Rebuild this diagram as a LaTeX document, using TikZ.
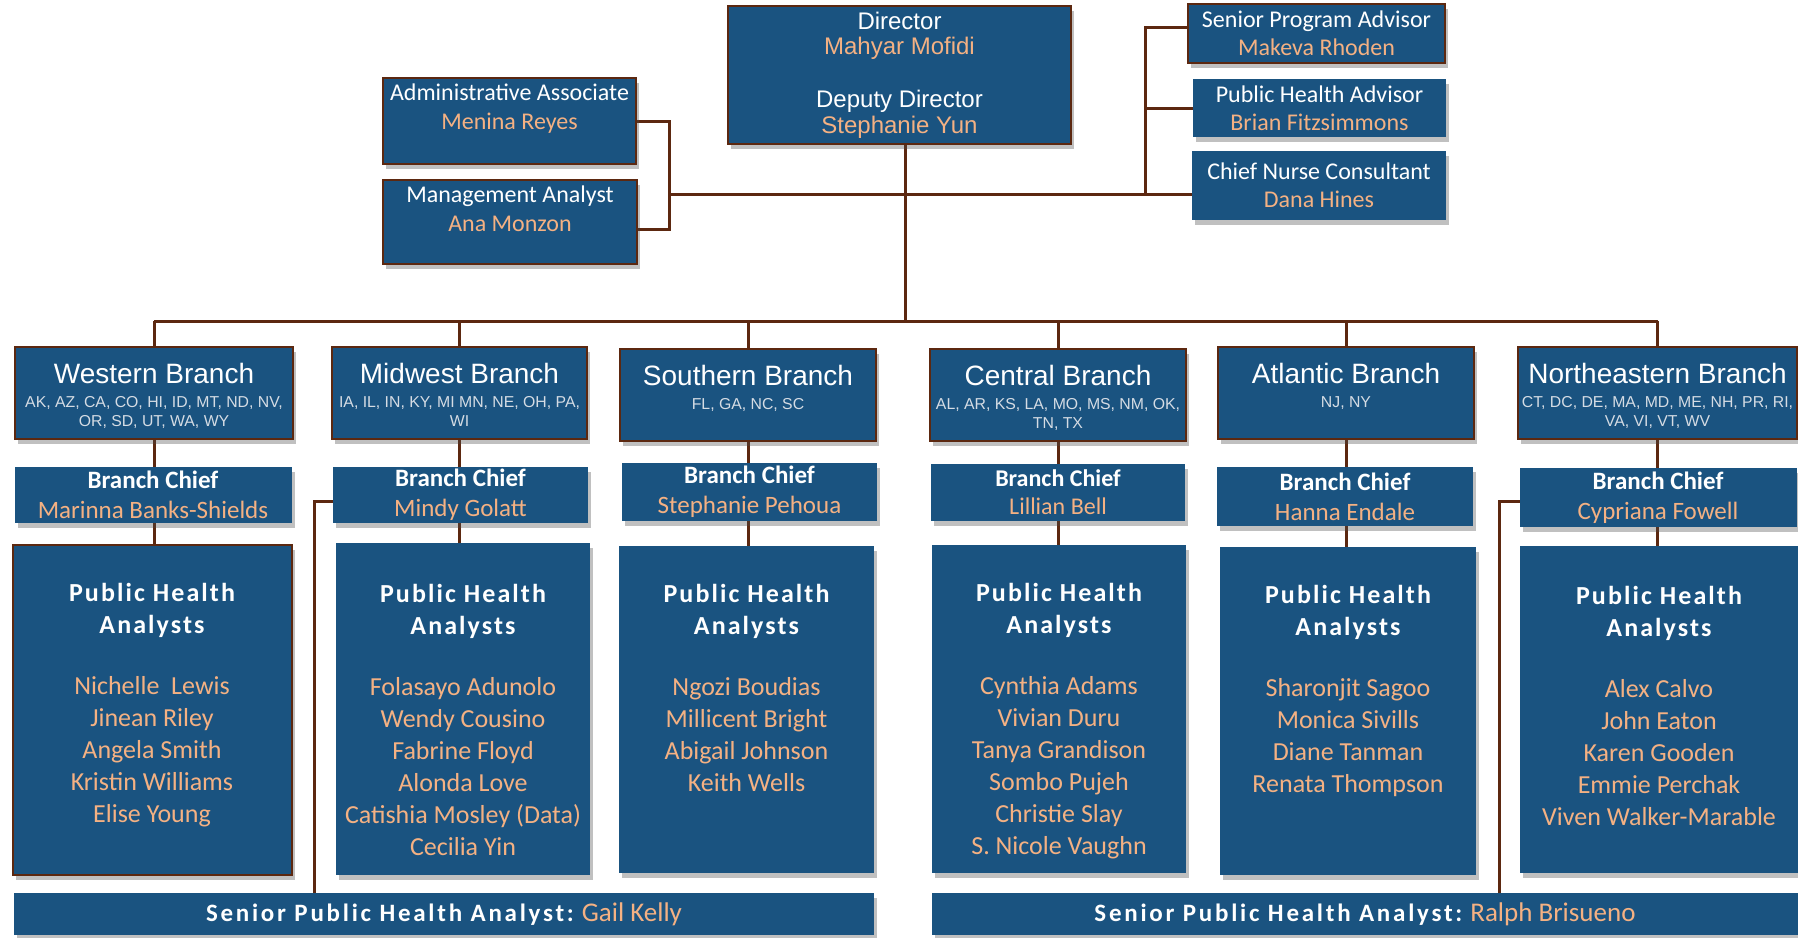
\documentclass[tikz,border=0pt]{standalone}
\usepackage{fontspec}
\setmainfont{Carlito}
\newfontfamily\arialfont{Liberation Sans}
\newfontfamily\trackfont[LetterSpace=8]{Carlito}
\newfontfamily\barfont[LetterSpace=11]{Carlito}
\usetikzlibrary{positioning,shadows,backgrounds}
\definecolor{boxblue}{HTML}{1A5380}
\definecolor{linebrown}{HTML}{5C2810}
\definecolor{peach}{HTML}{F4B183}
\definecolor{stategray}{HTML}{D5DCE4}
\newcommand{\who}[1]{{\color{peach}#1}}
\tikzset{
block/.style={
  rectangle,
  fill=boxblue,
  text=white,
  align=center,
  inner sep=0pt,
  outer sep=0pt,
  drop shadow={shadow xshift=1.5pt, shadow yshift=-2.5pt, opacity=.35, fill=black!70}},
rim/.style={block, draw=linebrown, line width=1pt},
staff/.style={font=\fontsize{12}{14.2}\selectfont},
boxtext/.style={inner sep=0pt, text=white, align=center, font=\fontsize{12}{14.5}\selectfont},
chief/.style={block, font=\fontsize{12.5}{15}\selectfont},
branchname/.style={inner sep=0pt, text=white, font=\arialfont\fontsize{14}{16}\selectfont},
states/.style={inner sep=0pt, text=stategray, align=center, font=\arialfont\fontsize{7.9}{9.5}\selectfont},
heading/.style={inner sep=0pt, text=white, align=center, font=\trackfont\bfseries\fontsize{13}{16}\selectfont},
names/.style={inner sep=0pt, text=peach, align=center, font=\fontsize{13}{16}\selectfont},
bar/.style={block, minimum height=21pt, font=\fontsize{13.5}{15}\selectfont},
link/.style={draw=linebrown, line width=1.5pt}
}
\begin{document}
\begin{tikzpicture}[x=0.5pt, y=-0.5pt]
    \useasboundingbox (0,0) rectangle (1798,937);
    % office of the director
    \node [rim, minimum width=171.5pt, minimum height=69pt, font=\arialfont\fontsize{12}{12.8}\selectfont] (director) at (899.5,75)
      {Director\\\who{Mahyar Mofidi}\\[13.7pt]Deputy Director\\\who{Stephanie Yun}};
    \node [rim, minimum width=126.5pt, minimum height=43pt] (admin) at (509.5,121) {};
    \node [boxtext, below=2.5pt of admin.north] (admintext) {Administrative Associate\\\who{Menina Reyes}};
    \node [rim, minimum width=127pt, minimum height=42pt] (mgmt) at (510,222) {};
    \node [boxtext, below=2.5pt of mgmt.north] (mgmttext) {Management Analyst\\\who{Ana Monzon}};
    \node [rim, staff, minimum width=128.5pt, minimum height=29.5pt] (spa) at (1316.5,33.5) {Senior Program Advisor\\\who{Makeva Rhoden}};
    \node [block, staff, minimum width=126.5pt, minimum height=29pt] (pha) at (1319.5,108) {Public Health Advisor\\\who{Brian Fitzsimmons}};
    \node [block, staff, minimum width=127pt, minimum height=34.5pt] (cnc) at (1319,185.5) {Chief Nurse Consultant\\\who{Dana Hines}};

    % branches
    \node [rim, minimum width=139pt, minimum height=46pt] (west) at (154,393) {};
    \node [branchname, below=8pt of west.north] (westname) {Western Branch};
    \node [states, below=6pt of westname] (weststates) {AK, AZ, CA, CO, HI, ID, MT, ND, NV,\\OR, SD, UT, WA, WY};
    \node [rim, minimum width=127.5pt, minimum height=46pt] (midwest) at (459.5,393) {};
    \node [branchname, below=8pt of midwest.north] (midwestname) {Midwest Branch};
    \node [states, below=6pt of midwestname] (midweststates) {IA, IL, IN, KY, MI MN, NE, OH, PA,\\WI};
    \node [rim, minimum width=127.75pt, minimum height=46pt] (south) at (748,395) {};
    \node [branchname, below=8pt of south.north] (southname) {Southern Branch};
    \node [states, below=6pt of southname] (southstates) {FL, GA, NC, SC};
    \node [rim, minimum width=127.75pt, minimum height=46pt] (central) at (1058,395) {};
    \node [branchname, below=8pt of central.north] (centralname) {Central Branch};
    \node [states, below=6pt of centralname] (centralstates) {AL, AR, KS, LA, MO, MS, NM, OK,\\TN, TX};
    \node [rim, minimum width=128pt, minimum height=46pt] (atlantic) at (1346,393) {};
    \node [branchname, below=8pt of atlantic.north] (atlanticname) {Atlantic Branch};
    \node [states, below=6pt of atlanticname] (atlanticstates) {NJ, NY};
    \node [rim, minimum width=139.5pt, minimum height=46pt] (northeast) at (1657.5,393) {};
    \node [branchname, below=8pt of northeast.north] (northeastname) {Northeastern Branch};
    \node [states, below=6pt of northeastname] (northeaststates) {CT, DC, DE, MA, MD, ME, NH, PR, RI,\\VA, VI, VT, WV};

    % branch chiefs
    \node [chief, minimum width=138.5pt, minimum height=28pt] (westchief) at (153,495) {\textbf{Branch Chief}\\\who{Marinna Banks-Shields}};
    \node [chief, minimum width=127.5pt, minimum height=28pt] (mwchief) at (460.5,495) {\textbf{Branch Chief}\\\who{Mindy Golatt}};
    \node [chief, minimum width=127.5pt, minimum height=29pt] (southchief) at (749.5,492) {\textbf{Branch Chief}\\\who{Stephanie Pehoua}};
    \node [chief, minimum width=127.25pt, minimum height=28.5pt, font=\fontsize{12}{14}\selectfont] (centralchief) at (1058,492.5) {\textbf{Branch Chief}\\\who{Lillian Bell}};
    \node [chief, minimum width=128pt, minimum height=29.5pt] (atlanticchief) at (1345,496.5) {\textbf{Branch Chief}\\\who{Hanna Endale}};
    \node [chief, minimum width=138.5pt, minimum height=29.5pt] (nechief) at (1658,497.5) {\textbf{Branch Chief}\\\who{Cypriana Fowell}};

    % analyst teams
    \node [rim, minimum width=139.5pt, minimum height=165pt] (westteam) at (152,710) {};
    \node [heading, below=19pt of westteam.north] (westhead) {Public Health\\Analysts};
    \node [names, below=19pt of westhead] (westnames) {Nichelle\ \ Lewis\\Jinean Riley\\Angela Smith\\Kristin Williams\\Elise Young};
    \node [block, minimum width=127pt, minimum height=166pt] (mwteam) at (463,709) {};
    \node [heading, below=20.5pt of mwteam.north] (mwhead) {Public Health\\Analysts};
    \node [names, below=19pt of mwhead] (mwnames) {Folasayo Adunolo\\Wendy Cousino\\Fabrine Floyd\\Alonda Love\\Catishia Mosley (Data)\\Cecilia Yin};
    \node [block, minimum width=127.5pt, minimum height=163.5pt] (southteam) at (746.5,709.5) {};
    \node [heading, below=19pt of southteam.north] (southhead) {Public Health\\Analysts};
    \node [names, below=19pt of southhead] (southnames) {Ngozi Boudias\\Millicent Bright\\Abigail Johnson\\Keith Wells};
    \node [block, minimum width=127pt, minimum height=164pt] (centralteam) at (1059,709) {};
    \node [heading, below=19pt of centralteam.north] (centralhead) {Public Health\\Analysts};
    \node [names, below=19pt of centralhead] (centralnames) {Cynthia Adams\\Vivian Duru\\Tanya Grandison\\Sombo Pujeh\\Christie Slay\\S. Nicole Vaughn};
    \node [block, minimum width=127.75pt, minimum height=164pt] (atlanticteam) at (1348,711) {};
    \node [heading, below=19pt of atlanticteam.north] (atlantichead) {Public Health\\Analysts};
    \node [names, below=19pt of atlantichead] (atlanticnames) {Sharonjit Sagoo\\Monica Sivills\\Diane Tanman\\Renata Thompson};
    \node [block, minimum width=139pt, minimum height=163.5pt] (neteam) at (1659,709.5) {};
    \node [heading, below=20pt of neteam.north] (nehead) {Public Health\\Analysts};
    \node [names, below=19pt of nehead] (nenames) {Alex Calvo\\John Eaton\\Karen Gooden\\Emmie Perchak\\Viven Walker-Marable};

    % senior analysts
    \node [bar, minimum width=430pt] (gailbar) at (444,914) {{\barfont\bfseries\fontsize{12.5}{15}\selectfont Senior Public Health Analyst:} \who{Gail Kelly}};
    \node [bar, minimum width=433pt] (ralphbar) at (1365,914) {{\barfont\bfseries\fontsize{12.5}{15}\selectfont Senior Public Health Analyst:} \who{Ralph Brisueno}};

    \coordinate (hub) at (905,194);
    \coordinate (bus) at (905,321);
    \coordinate (lbrack) at (669,194);
    \coordinate (rbrack) at (1145,194);
    \coordinate (gailtap) at (314,501);
    \coordinate (ralphtap) at (1499,501);
    \begin{scope}[on background layer]
    \fill [white] (0,0) rectangle (1798,937);
    \path [link] (director.south -| hub) -- (bus);
    \path [link] (admin.east) -| (lbrack) |- ([yshift=-3.5pt]mgmt.east);
    \path [link] (lbrack) -- (cnc.west |- lbrack);
    \path [link] ([yshift=3.25pt]spa.west) -| (rbrack);
    \path [link] (pha.west) -- (pha.west -| rbrack);
    \path [link] (west.north |- bus) -- (northeast.north |- bus);
    \path [link] (west.north |- bus) -- (west.north |- westteam.north);
    \path [link] (midwest.north |- bus) -- (midwest.north |- mwteam.north);
    \path [link] (south.north |- bus) -- (south.north |- southteam.north);
    \path [link] (central.north |- bus) -- (central.north |- centralteam.north);
    \path [link] (atlantic.north |- bus) -- (atlantic.north |- atlanticteam.north);
    \path [link] (northeast.north |- bus) -- (northeast.north |- neteam.north);
    \path [link] (gailtap -| mwchief.west) -- (gailtap) -- (gailtap |- gailbar.north);
    \path [link] (ralphtap -| nechief.west) -- (ralphtap) -- (ralphtap |- ralphbar.north);
    \end{scope}
\end{tikzpicture}
\end{document}
